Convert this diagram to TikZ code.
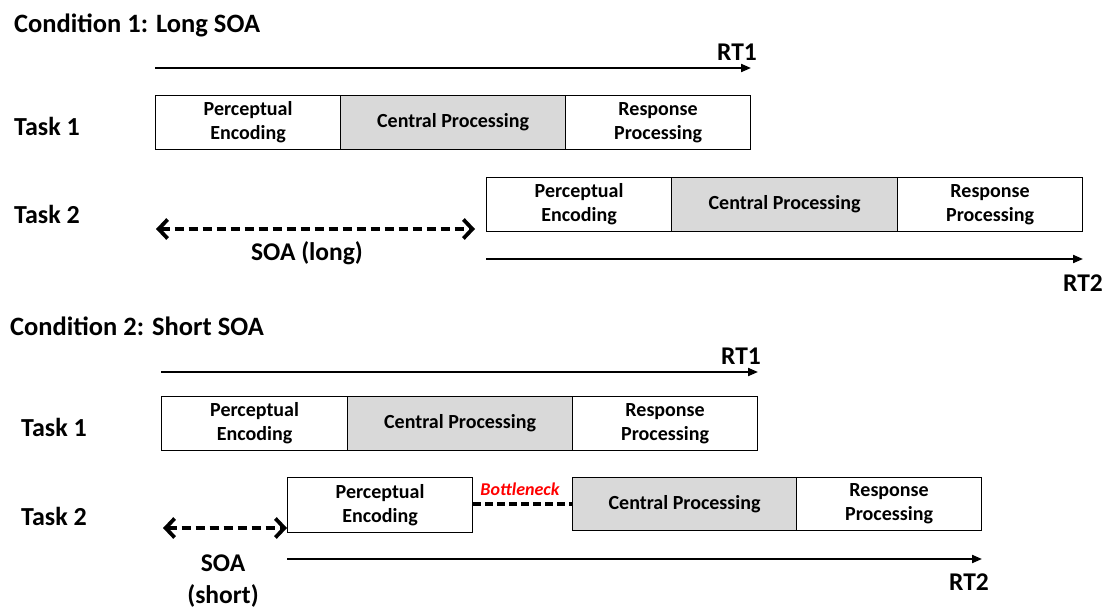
\documentclass[tikz,border=0pt]{standalone}
\usepackage{fontspec}
\setmainfont{Carlito}
\usetikzlibrary{arrows.meta}
\definecolor{stagegray}{HTML}{D9D9D9}
\definecolor{bneckred}{HTML}{FF0000}
\begin{document}
\begin{tikzpicture}[x=1pt,y=-1pt,
  stage/.style={draw=black, line width=1.2pt, fill=white, minimum height=54pt,
    inner sep=0pt, anchor=north west, align=center,
    font=\fontsize{20}{24}\selectfont\bfseries},
  central/.style={stage, fill=stagegray},
  heading/.style={anchor=west, inner sep=0pt, font=\fontsize{26.5}{30}\selectfont\bfseries},
  tasklbl/.style={anchor=west, inner sep=0pt, font=\fontsize{26}{30}\selectfont\bfseries},
  lbl/.style={inner sep=0pt, align=center, font=\fontsize{25.5}{31}\selectfont\bfseries},
  rtarrow/.style={line width=2pt, -{Triangle[length=10pt,width=8pt]}},
  soaarrow/.style={line width=3.8pt, dash pattern=on 9pt off 5pt,
    {Straight Barb[length=9pt,width=19pt]}-{Straight Barb[length=9pt,width=19pt]}},
  bneck/.style={line width=3.8pt, dash pattern=on 8pt off 4pt}
]
\useasboundingbox (0,0) rectangle (1108,610);

% ---------- Condition 1: long SOA ----------
\node[heading] (h1) at (14,25) {Condition 1: Long SOA};
\node[tasklbl] (a1t1) at (14,126) {Task 1};
\node[tasklbl] (a1t2) at (14,214) {Task 2};

\node[stage,   minimum width=185pt] (a1pe) at (155,95) {Perceptual\\Encoding};
\node[central, minimum width=225pt] (a1cp) at (340,95) {Central Processing};
\node[stage,   minimum width=185pt] (a1rp) at (565,95) {Response\\Processing};

\node[stage,   minimum width=185pt] (b1pe) at (486,177) {Perceptual\\Encoding};
\node[central, minimum width=226pt] (b1cp) at (671,177) {Central Processing};
\node[stage,   minimum width=185pt] (b1rp) at (897,177) {Response\\Processing};

\coordinate (a1s) at (155,68);
\coordinate (a1e) at (751,68);
\draw[rtarrow] (a1s) -- (a1e);
\node[lbl] (rt1a) at (737,52) {RT1};

\coordinate (soa1s) at (156,229);
\coordinate (soa1e) at (475,229);
\draw[soaarrow] (soa1s) -- (soa1e);
\node[lbl] (soa1) at (307,253) {SOA (long)};

\coordinate (b1s) at (486,259);
\coordinate (b1e) at (1083,259);
\draw[rtarrow] (b1s) -- (b1e);
\node[lbl] (rt2a) at (1083,283) {RT2};

% ---------- Condition 2: short SOA ----------
\node[heading] (h2) at (10,326) {Condition 2: Short SOA};
\node[tasklbl] (a2t1) at (21,427) {Task 1};
\node[tasklbl] (a2t2) at (21,516) {Task 2};

\node[stage,   minimum width=186pt] (a2pe) at (161,396) {Perceptual\\Encoding};
\node[central, minimum width=225pt] (a2cp) at (347,396) {Central Processing};
\node[stage,   minimum width=185pt] (a2rp) at (572,396) {Response\\Processing};

\node[stage,   minimum width=185pt, minimum height=55pt] (b2pe) at (287,477) {Perceptual\\Encoding};
\node[central, minimum width=224pt, minimum height=53pt] (b2cp) at (572,477) {Central Processing};
\node[stage,   minimum width=185pt, minimum height=53pt] (b2rp) at (796,477) {Response\\Processing};

\draw[bneck] (b2pe.east |- b2cp.west) -- (b2cp.west);
\node[inner sep=0pt, text=bneckred, font=\fontsize{18}{20}\selectfont\bfseries\itshape]
  (bn) at (520,489) {Bottleneck};

\coordinate (a2s) at (161,372);
\coordinate (a2e) at (758,372);
\draw[rtarrow] (a2s) -- (a2e);
\node[lbl] (rt1b) at (741,356) {RT1};

\coordinate (soa2s) at (163,528);
\draw[soaarrow] (soa2s) -- (soa2s -| b2pe.west);
\node[lbl, font=\fontsize{25.5}{32}\selectfont\bfseries] (soa2) at (223,581) {SOA\\(short)};

\coordinate (b2s) at (287,559);
\coordinate (b2e) at (982,559);
\draw[rtarrow] (b2s) -- (b2e);
\node[lbl] (rt2b) at (969,582) {RT2};
\end{tikzpicture}
\end{document}
